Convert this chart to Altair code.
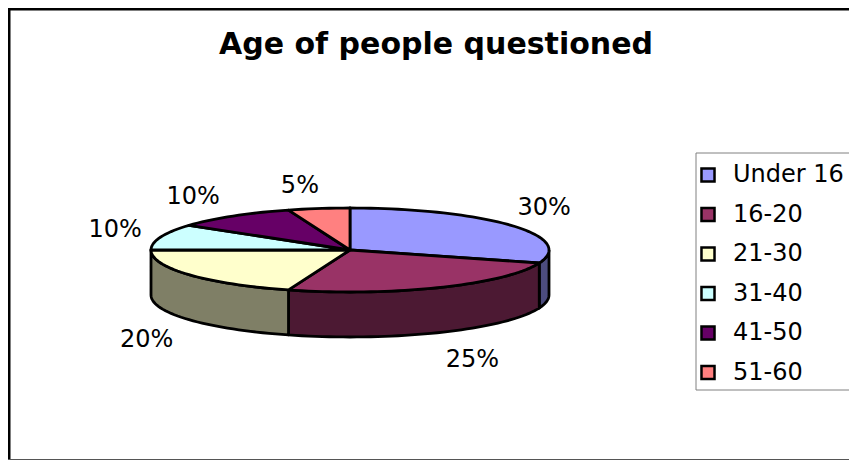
import math
import altair as alt
import pandas as pd

ages = ["Under 16", "16-20", "21-30", "31-40", "41-50", "51-60"]
shares = [30, 25, 20, 10, 10, 5]
top_colors = ["#9999FF", "#993366", "#FFFFCC", "#CCFFFF", "#660066", "#FF8080"]
side_colors = ["#4C4C7F", "#4C1933", "#7F7F66", "#667F7F", "#330033", "#7F4040"]
TITLE = "Age of people questioned"

# pie geometry, in page pixels
CX, CY, RX, RY, DEPTH = 350, 250, 199, 42, 45
FONT = "DejaVu Sans"

def pt(deg, drop=0):
    a = math.radians(deg)
    return CX + RX * math.sin(a), CY - RY * math.cos(a) + drop

def arc(a, b):
    n = max(2, int(abs(b - a) / 2) + 1)
    return [a + (b - a) * i / (n - 1) for i in range(n)]

tops, sides, labels = [], [], []
start = 0.0
nudges = [(-8, -1), (9, 3), (-1, 4), (3, 2), (-10, 4), (-11, 5)]
for i, (age, s) in enumerate(zip(ages, shares)):
    end = start + s * 3.6
    poly = [(CX, CY)] + [pt(d) for d in arc(start, end)] + [(CX, CY)]
    for k, (x, y) in enumerate(poly):
        tops.append(dict(age=age, x=x, y=y, seq=k))
    lo, hi = max(start, 90), min(end, 270)
    if lo < hi:
        ring = [pt(d) for d in arc(lo, hi)] + [pt(d, DEPTH) for d in arc(hi, lo)]
        ring.append(ring[0])
        for k, (x, y) in enumerate(ring):
            sides.append(dict(age=age, side=side_colors[i], x=x, y=y, seq=k))
    mid = math.radians((start + end) / 2)
    lx = CX + 250 * math.sin(mid) + nudges[i][0]
    ly = CY - 70 * math.cos(mid) + (DEPTH if math.cos(mid) < 0 else 0) + nudges[i][1]
    labels.append(dict(x=lx, y=ly, text=f"{s}%"))
    start = end

W, H = 841, 452
xs = alt.Scale(domain=[8, 8 + W], range=[0, W])
ys = alt.Scale(domain=[8, 8 + H], range=[0, H])
X = alt.X("x:Q", scale=xs, axis=None)
Y = alt.Y("y:Q", scale=ys, axis=None)

one = pd.DataFrame([{"a": 0}])

legend_box = alt.Chart(one).mark_rect(fill="white", stroke="#808080", strokeWidth=1).encode(
    x=alt.value(688), x2=alt.value(W + 5), y=alt.value(145), y2=alt.value(382))

side_layer = alt.Chart(pd.DataFrame(sides)).mark_line(
    stroke="black", strokeWidth=2.8, strokeJoin="round", clip=False
).encode(
    X, Y, order="seq:Q", detail="age:N",
    fill=alt.Fill("side:N", scale=None, legend=None),
)
top_layer = alt.Chart(pd.DataFrame(tops)).mark_line(
    stroke="black", strokeWidth=2.8, strokeJoin="round"
).encode(
    X, Y, order="seq:Q",
    fill=alt.Fill(
        "age:N",
        scale=alt.Scale(domain=ages, range=top_colors),
        sort=ages,
        legend=alt.Legend(
            title=None, orient="none", legendX=688, legendY=155,
            symbolType="square", symbolSize=170, symbolStrokeColor="black",
            symbolStrokeWidth=2.5, symbolOpacity=1,
            labelFont=FONT, labelFontSize=24, labelColor="black", labelLimit=200,
            rowPadding=15.5, labelOffset=13, padding=0,
        ),
    ),
)
text_layer = alt.Chart(pd.DataFrame(labels)).mark_text(
    font=FONT, fontSize=24, color="black"
).encode(X, Y, text="text:N")
title_layer = alt.Chart(pd.DataFrame([dict(x=CX + 86, y=45, text=TITLE)])).mark_text(
    font=FONT, fontSize=30, fontWeight="bold", color="black"
).encode(X, Y, text="text:N")

left = alt.Chart(one).mark_rule(color="black", strokeWidth=3).encode(
    x=alt.value(1), y=alt.value(0), y2=alt.value(H))
top = alt.Chart(one).mark_rule(color="black", strokeWidth=3).encode(
    x=alt.value(0), x2=alt.value(W), y=alt.value(1))
bottom = alt.Chart(one).mark_rule(color="#555555", strokeWidth=1).encode(
    x=alt.value(0), x2=alt.value(W), y=alt.value(H - 0.5))

chart = alt.layer(legend_box, side_layer, top_layer, text_layer, title_layer, left, top, bottom).resolve_scale(
    fill="independent"
).properties(
    width=W, height=H, padding=0, background="white",
    autosize=alt.AutoSizeParams(type="none"),
).configure_view(stroke=None)

chart.save("out.html", embed_options={"renderer": "svg", "actions": False})
